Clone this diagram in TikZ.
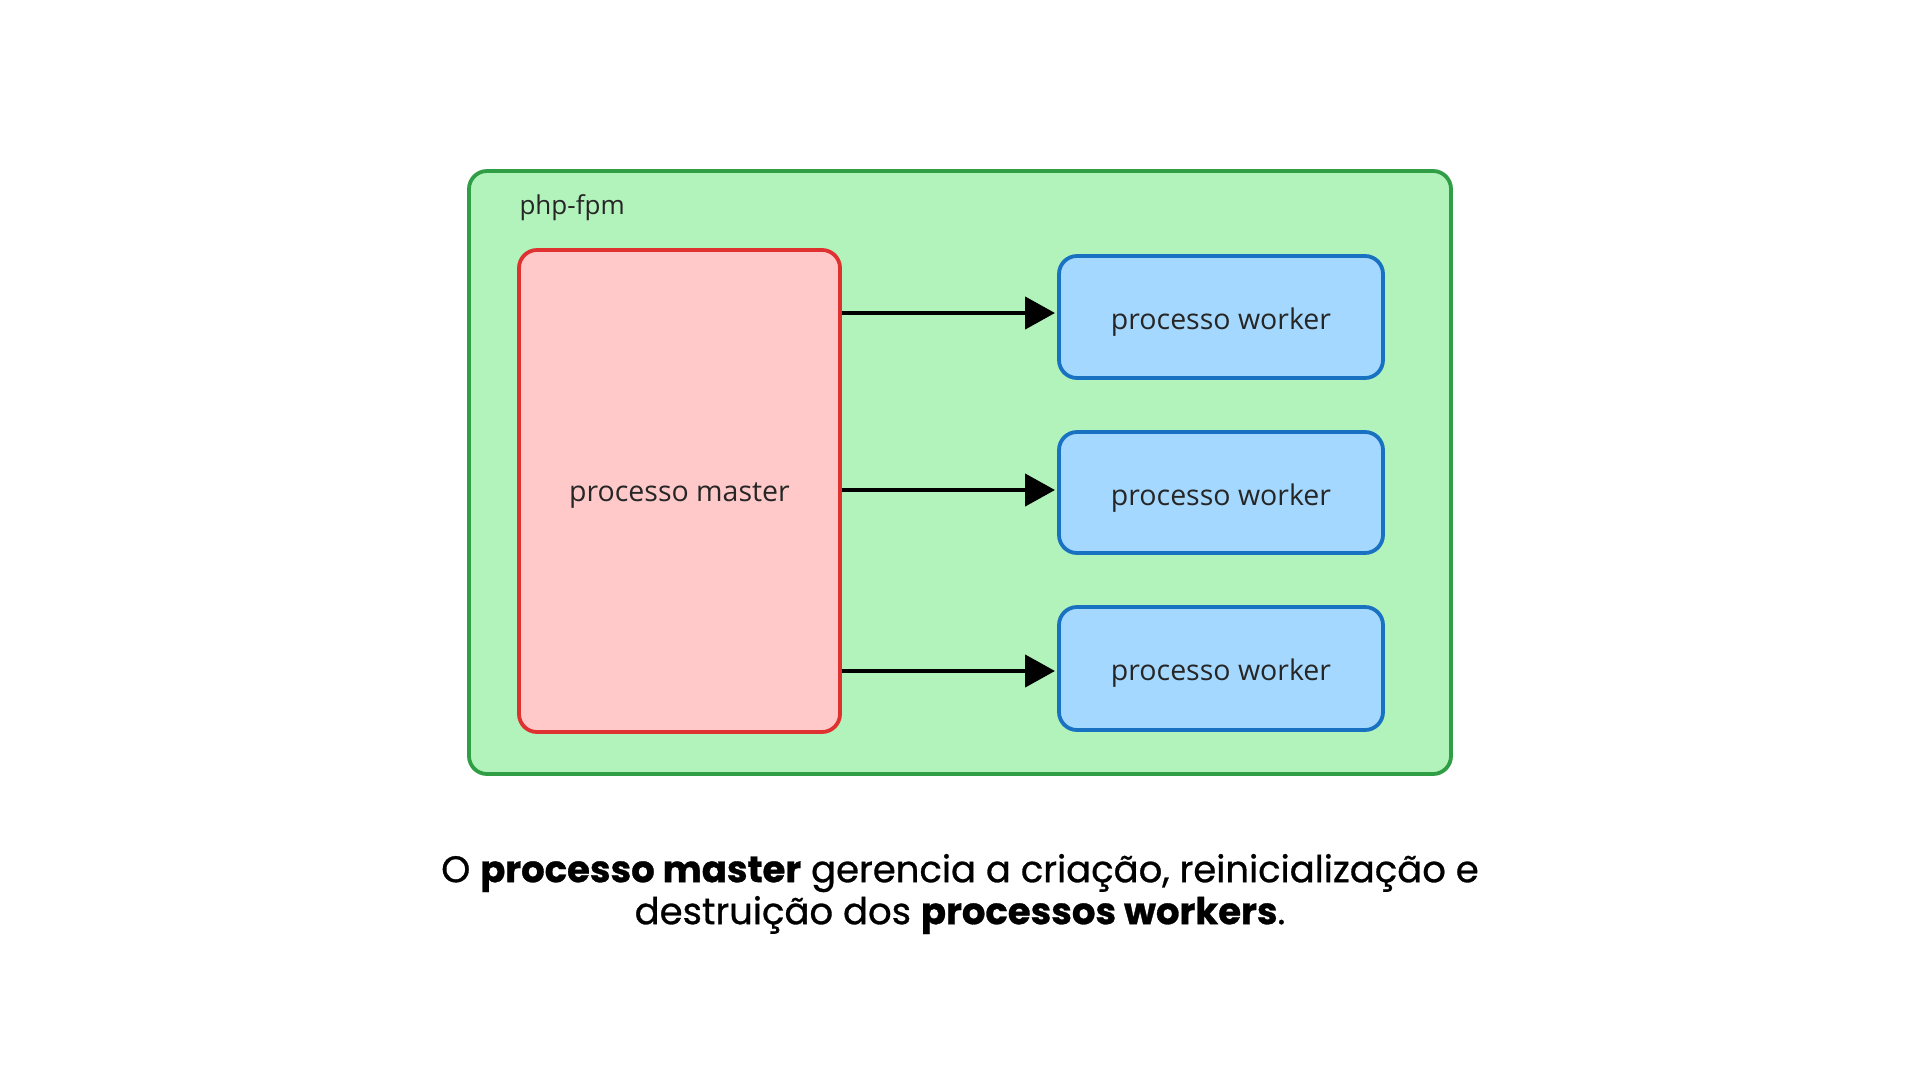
\documentclass[tikz,border=0pt]{standalone}
\usepackage{fontspec}
\setmainfont{Open Sans}
\newfontfamily\capfont{Poppins}[FakeBold=0.8]
\usetikzlibrary{arrows.meta}
\definecolor{gfill}{HTML}{B2F2BB}
\definecolor{gline}{HTML}{2F9E44}
\definecolor{rfill}{HTML}{FFC9C9}
\definecolor{rline}{HTML}{E03131}
\definecolor{bfill}{HTML}{A5D8FF}
\definecolor{bline}{HTML}{1971C2}
\tikzset{
  box/.style={line width=3.8pt, rounded corners=18pt},
  lbl/.style={font=\fontsize{28.5}{32}\selectfont, text=black!85},
  conn/.style={line width=4.5pt, -{Triangle[length=30pt,width=32pt]}},
}
\begin{document}
\begin{tikzpicture}[x=1pt,y=-1pt]
\useasboundingbox (0,0) rectangle (1920,1080);
\fill[white] (0,0) rectangle (1920,1080);
% outer container
\draw[box, fill=gfill, draw=gline] (469,171) rectangle (1451,774);
\node[lbl, anchor=west, font=\fontsize{26}{30}\selectfont] (php) at (516,208) {php-fpm};
% master
\draw[box, fill=rfill, draw=rline] (519,250) rectangle (840,732);
\node[lbl] (master) at (679.5,496) {processo master};
\coordinate (mR1) at (842,313);
\coordinate (mR2) at (842,490);
\coordinate (mR3) at (842,671);
% workers
\draw[box, fill=bfill, draw=bline] (1059,256) rectangle (1383,378);
\node[lbl] (w1) at (1221,322) {processo worker};
\draw[box, fill=bfill, draw=bline] (1059,432) rectangle (1383,553);
\node[lbl] (w2) at (1221,498) {processo worker};
\draw[box, fill=bfill, draw=bline] (1059,607) rectangle (1383,730);
\node[lbl] (w3) at (1221,673) {processo worker};
\coordinate (wL1) at (1055,313);
\coordinate (wL2) at (1055,490);
\coordinate (wL3) at (1055,671);
\draw[conn] (mR1) -- (wL1);
\draw[conn] (mR2) -- (wL2);
\draw[conn] (mR3) -- (wL3);
% caption
\node[font=\capfont\fontsize{37}{42}\selectfont, align=center] (cap) at (960,894)
  {O \textbf{processo master} gerencia a criação, reinicialização e\\
   destruição dos \textbf{processos workers}.};
\end{tikzpicture}
\end{document}
